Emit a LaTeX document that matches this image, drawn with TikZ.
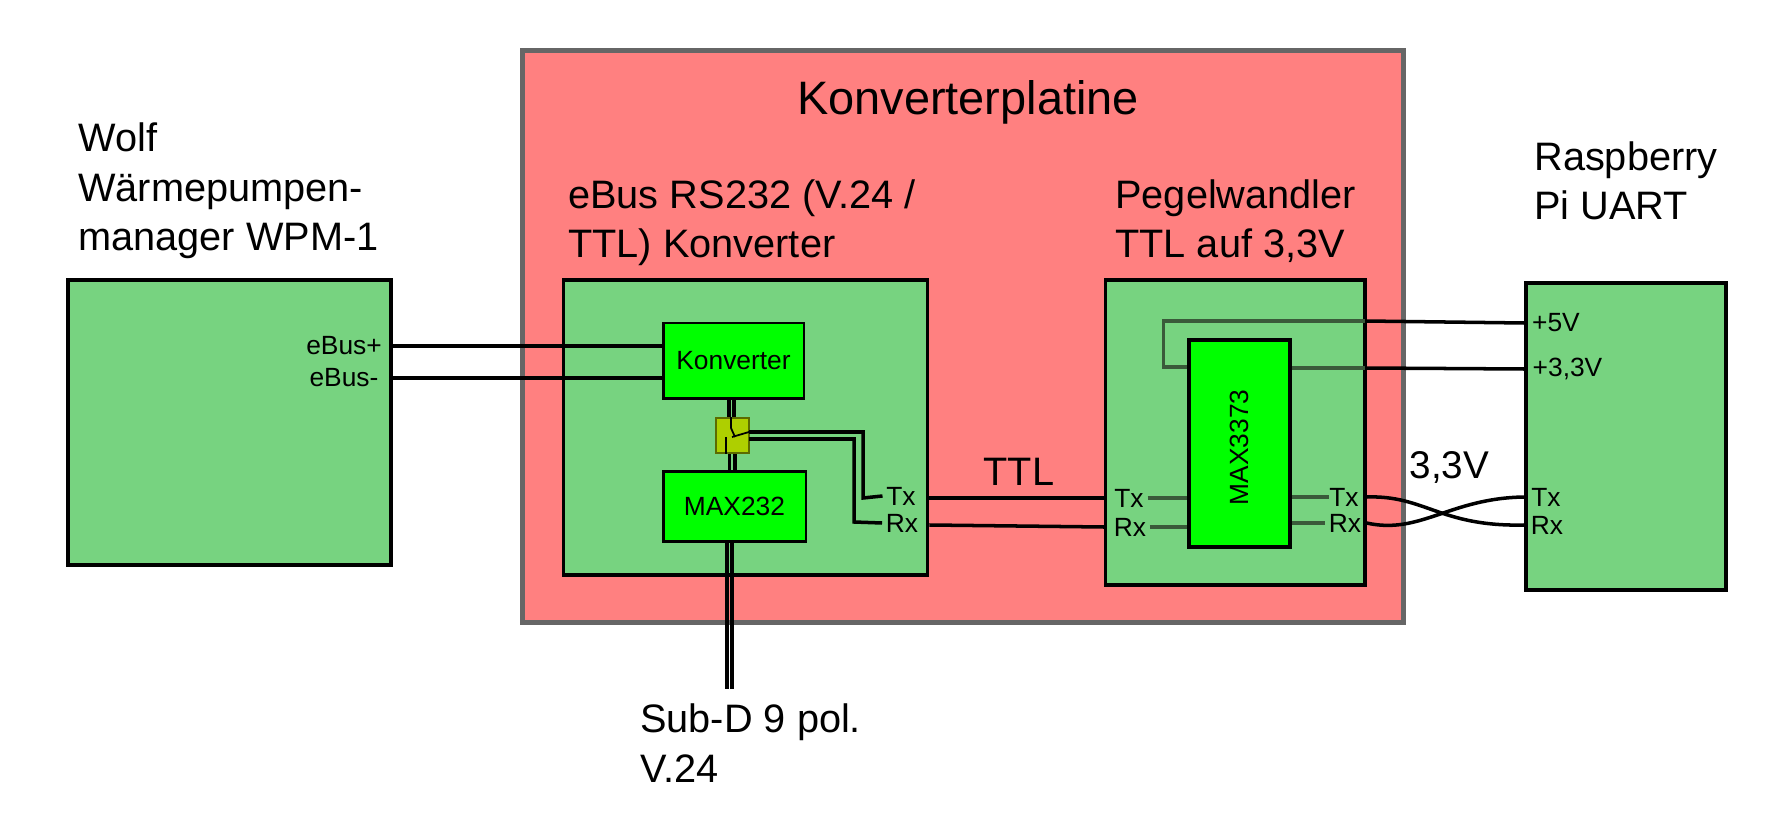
\documentclass[tikz,border=0pt]{standalone}
\usepackage{fontspec}
\setmainfont{Liberation Sans}
\definecolor{boardred}{HTML}{FF8080}
\definecolor{boxgreen}{HTML}{77D380}
\definecolor{chipgreen}{HTML}{00FF00}
\definecolor{switchgreen}{HTML}{AECF00}
\definecolor{switchline}{HTML}{5C6B00}
\definecolor{innerwire}{HTML}{3A5A3A}
\definecolor{boardline}{HTML}{666666}
\newcommand{\bigfont}{\fontsize{22.6}{28.4}\selectfont}
\tikzset{
    boxnode/.style={draw=black,line width=1.9pt,fill=boxgreen,inner sep=0pt},
    chipnode/.style={draw=black,line width=1.7pt,fill=chipgreen,inner sep=0pt,font=\fontsize{15}{18}\selectfont},
    pinnode/.style={inner sep=2pt,font=\fontsize{15}{18}\selectfont},
    headnode/.style={anchor=base west,align=left,inner sep=0pt,font=\bigfont},
    wire/.style={draw=black,line width=2pt},
    graywire/.style={draw=innerwire,line width=1.9pt},
}

\begin{document}
\begin{tikzpicture}[x=.02cm,y=-.02cm]
            \useasboundingbox (0,0) rectangle (1772,827);

            \node (board) at (963,336.5) [draw=boardline,line width=2.8pt,fill=boardred,minimum width=17.64cm,minimum height=11.43cm] {};

            \begin{scope}[every node/.style={boxnode}]
                \node (wolf) at (229.5,422.5) [minimum width=6.46cm,minimum height=5.7cm] {};
                \node (conv) at (745.5,427.5) [minimum width=7.29cm,minimum height=5.9cm] {};
                \node (level) at (1235.25,432.5) [minimum width=5.19cm,minimum height=6.1cm] {};
                \node (pi) at (1626,436.5) [minimum width=4cm,minimum height=6.14cm] {};
            \end{scope}

            \begin{scope}[every node/.style={chipnode}]
                \node (konv) at (733.5,361) [minimum width=2.82cm,minimum height=1.52cm] {Konverter};
                \node (max232) at (734.5,506.5) [minimum width=2.86cm,minimum height=1.42cm] {MAX232};
                \node (max3373) at (1239.5,443.5) [line width=2pt,minimum width=2.02cm,minimum height=4.14cm] {\rotatebox{90}{MAX3373\hspace{.16cm}}};
            \end{scope}
            \node (sw) at (732.5,435.5) [draw=switchline,line width=1pt,fill=switchgreen,minimum width=.66cm,minimum height=.7cm,inner sep=0pt] {};

            % labels
            \begin{scope}[every node/.style={pinnode}]
                \node (ebusp) at (344,346) {eBus+};
                \node (ebusm) at (344,378) {eBus-};
                \node (txa) at (901,496) {Tx};
                \node (rxa) at (902,523) {Rx};
                \node (txb) at (1129,498) {Tx};
                \node (rxb) at (1130,527) {Rx};
                \node (txc) at (1344,497) [inner sep=0pt] {Tx};
                \node (rxc) at (1345,523) {Rx};
                \node (vfive) at (1556,323) {+5V};
                \node (vthree) at (1567.5,369) {+3,3V};
                \node (txd) at (1546,497) {Tx};
                \node (rxd) at (1547,525) {Rx};
            \end{scope}

            \node (title) at (968,102) [font=\fontsize{26.7}{32}\selectfont,inner sep=0pt] {Konverterplatine};
            \node (wolftext) at (78,251) [headnode] {Wolf\\Wärmepumpen-\\manager WPM-1};
            \node (convtext) at (568,258) [headnode] {eBus RS232 (V.24 /\\TTL) Konverter};
            \node (leveltext) at (1115,258) [headnode] {Pegelwandler\\TTL auf 3,3V};
            \node (pitext) at (1534,220) [headnode] {Raspberry\\Pi UART};
            \node (subtext) at (640,782) [headnode] {Sub-D 9 pol.\\V.24};
            \node (ttltext) at (1019,472) [font=\fontsize{22.6}{26}\selectfont,inner sep=0pt] {TTL};
            \node (busvolt) at (1449.5,467) [font=\fontsize{22}{26}\selectfont,inner sep=0pt] {3,3V};

            \coordinate (swa) at (749,432);
            \coordinate (swb) at (749,439);
            \coordinate (swc) at (731,428);
            \coordinate (swd) at (735,437);
            \coordinate (swe) at (732,437);
            \coordinate (swf) at (726,437);
            \coordinate (subd) at (730,689);
            \coordinate (vlow) at (1163.5,367);
            \coordinate (vhigh) at (1365,321);
            \coordinate (vback) at (1365,368);

            \begin{scope}[every edge/.style={wire}]
                \path (wolf.east |- ebusp) edge (konv.west |- ebusp);
                \path (wolf.east |- ebusm) edge (konv.west |- ebusm);
                \path (conv.east |- txb) edge (level.west |- txb);
                \path (conv.east |- 0,525) edge (level.west |- rxb);
                \path (vhigh) edge (pi.west |- vfive);
                \path (vback) edge (pi.west |- vthree);
            \end{scope}

            % double lines round the switch
            \begin{scope}[line width=1.8pt]
                \draw ([xshift=-.09cm]konv.south) -- ([xshift=-.09cm]konv.south |- sw.north);
                \draw ([xshift=.01cm]konv.south) -- ([xshift=.01cm]konv.south |- sw.north);
                \draw ([xshift=-.1cm]max232.north) -- ([xshift=-.1cm]max232.north |- sw.south);
                \draw ([xshift=.01cm]max232.north) -- ([xshift=.01cm]max232.north |- sw.south);
                \draw ([xshift=-.15cm]max232.south) -- ([xshift=-.15cm]max232.south |- subd);
                \draw ([xshift=-.05cm]max232.south) -- ([xshift=-.05cm]max232.south |- subd);
            \end{scope}

            \draw [line width=1pt] (swc |- sw.north) -- (swc) -- (swd);
            \draw [line width=1pt] (swe) -- (swa);
            \draw [line width=1pt] (swf) -- (swf |- sw.south);

            \draw [wire] (swa) -| (863,498) -- (txa.west);
            \draw [wire] (swb) -| (854,522) -- (rxa.west);

            \draw [graywire] (max3373.west |- vlow) -- (vlow) |- (vhigh);
            \draw [graywire] (max3373.east |- vback) -- (vback);
            \draw [graywire] (txb.east) -- (max3373.west |- txb);
            \draw [graywire] (rxb.east) -- (max3373.west |- rxb);
            \draw [graywire] (max3373.east |- txc) -- (txc.west);
            \draw [graywire] (max3373.east |- rxc) -- (rxc.west);

            % crossing on the way to the Pi
            \draw [wire] (level.east |- txc) .. controls (1425,495) and (1440,527) .. (pi.west |- rxd);
            \draw [wire] (level.east |- rxc) .. controls (1420,535) and (1450,498) .. (pi.west |- txd);
            \end{tikzpicture}
\end{document}
